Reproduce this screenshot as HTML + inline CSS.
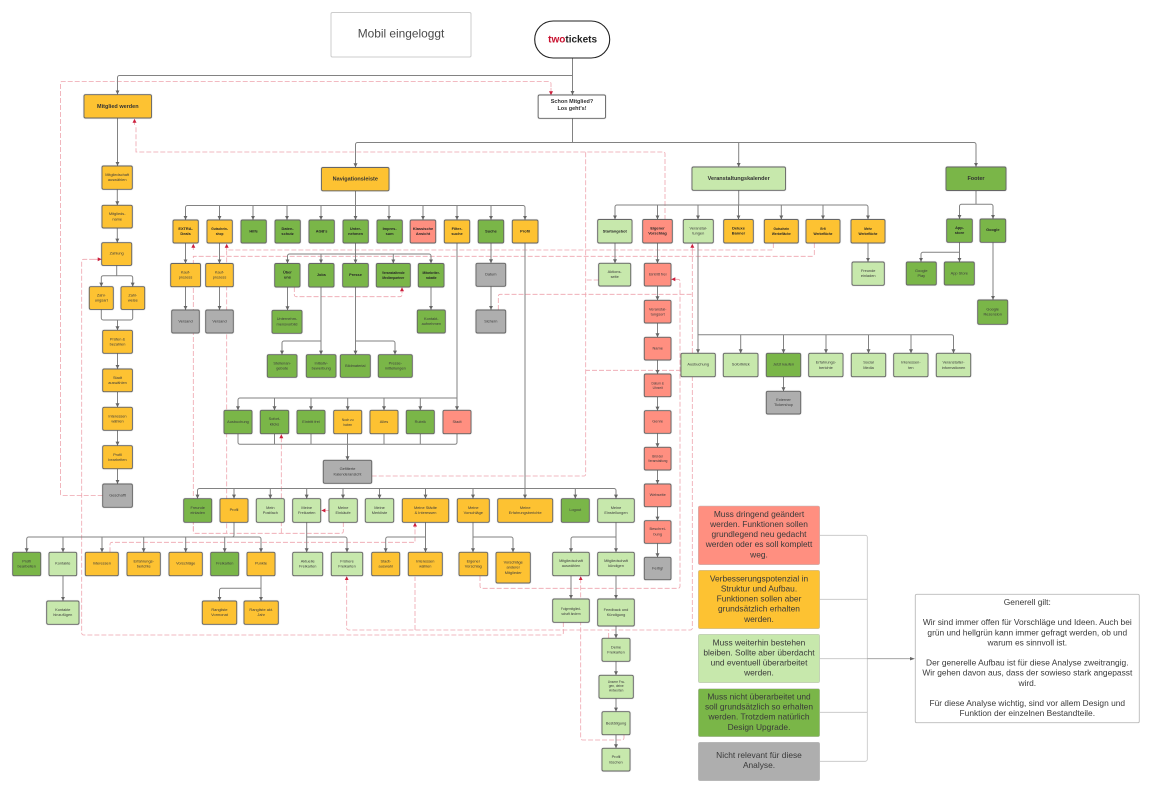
<!DOCTYPE html>
<html lang="de"><head><meta charset="utf-8"><title>Mobil eingeloggt</title>
<style>
html,body{margin:0;padding:0;background:#fff;width:1152px;height:794px;overflow:hidden}
svg{display:block}
text{font-family:"Liberation Sans",sans-serif;font-size:3.9px;text-anchor:middle;fill:#3c3c3c}
.b text,text.b{font-weight:bold;fill:#262626}
.h{font-weight:bold;font-size:5.5px;fill:#333}
.s{font-size:3.2px}
.l{font-size:8.4px;fill:#3a3a3a}
.o,.g,.c,.r,.k,.w{stroke:#666;stroke-width:.9;filter:drop-shadow(0 .4px .4px rgba(0,0,0,.3))}
.o{fill:#fdc232}.g{fill:#7ab648}.c{fill:#c7e8ac}.r{fill:#ff8f80}.k{fill:#aeaeae}.w{fill:#fff}
.ln path{fill:none;stroke:#828282;stroke-width:1}
.ar path{fill:none;stroke:#828282;stroke-width:1;marker-end:url(#a)}
.da path{fill:none;stroke:#eea4ad;stroke-width:.8;stroke-dasharray:5 2}
.dar path{fill:none;stroke:#eea4ad;stroke-width:.8;stroke-dasharray:5 2;marker-end:url(#ra)}
.lg{stroke:#bdbdbd;stroke-width:.5}
</style></head><body>
<svg xmlns="http://www.w3.org/2000/svg" width="1152" height="794" viewBox="0 0 1152 794">
<defs>
<marker id="a" markerUnits="userSpaceOnUse" markerWidth="5" markerHeight="5" refX="3.8" refY="2" orient="auto"><path d="M0 0L4 2L0 4Z" style="fill:#666;stroke:none"/></marker>
<marker id="ra" markerUnits="userSpaceOnUse" markerWidth="5" markerHeight="5" refX="3.8" refY="2" orient="auto"><path d="M0 0L4 2L0 4Z" style="fill:#cc1f3c;stroke:none;stroke-dasharray:none"/></marker>
</defs>

<g class="da">
<path d="M102.7 495.5H62a1.5 1.5 0 0 1-1.5-1.5V83a1.5 1.5 0 0 1 1.5-1.5H549a2 2 0 0 1 2 2V88"/>
<path d="M665 220V153.5a1.5 1.5 0 0 0-1.5-1.5H136V125"/>
<path d="M371.7 476H584a1.7 1.7 0 0 0 1.7-1.7V152"/>
<path d="M598.7 280H585.7"/>
<path d="M681 370.3H585.7"/>
<path d="M773.3 243V248a2 2 0 0 1-2 2H226.7V533.3"/>
<path d="M814.3 243V254.3a2 2 0 0 1-2 2H193.3V533.3"/>
<path d="M343.3 522V531.3a2 2 0 0 1-2 2H195.3a2 2 0 0 1-2-2V500"/>
<path d="M281.3 533.3V442"/>
<path d="M498.3 310V296.3a2 2 0 0 1 2-2H692.3"/>
<path d="M692.3 250V628a2 2 0 0 1-2 2H348.7a2 2 0 0 1-2-2V582"/>
<path d="M415 630V576.7"/>
<path d="M608.7 638V630"/>
<path d="M563.3 622V633a2 2 0 0 1-2 2H83.7a2 2 0 0 1-2-2V261.3a2 2 0 0 1 2-2H94"/>
<path d="M110 552.3V544.3a2 2 0 0 1 2-2H415V528"/>
<path d="M480 576V586.3a2 2 0 0 0 2 2H678a2 2 0 0 0 2-2V281.3a2 2 0 0 0-2-2H676"/>
<path d="M624 735V738a2 2 0 0 1-2 2H582.7a2 2 0 0 1-2-2V582"/>
<path d="M294.3 287V294.7a2 2 0 0 0 2 2H400a2 2 0 0 0 2-2V293"/>
</g>
<g class="dar">
<path d="M551 88V95"/><path d="M134.5 125V119"/>
<path d="M193.3 250V244"/><path d="M226.7 250V244"/><path d="M692.3 250V244"/>
<path d="M281.3 442V434.5"/>
<path d="M329 510.5H321.6"/>
<path d="M415 528V522.7"/>
<path d="M346.7 582V576.4"/>
<path d="M580.7 582V576.4"/>
<path d="M676 279.3H671.5"/>
<path d="M94 259.3H101.5"/>
<path d="M402 293V287.5"/>
</g>

<g class="ln">
<path d="M572.5 75.5H119.5a2 2 0 0 0-2 2V90"/>
<path d="M572.5 118V142.5"/>
<path d="M357.5 142.5H974a2 2 0 0 1 2 2V160"/>
<path d="M355.5 160V144.5a2 2 0 0 1 2-2"/>
<path d="M116.7 265V275.7M103.3 275.7H130.7a2 2 0 0 1 2 2V280M103.3 275.7a2 2 0 0 0-2 2V280"/>
<path d="M101.3 309.3V318a2 2 0 0 0 2 2H130.7a2 2 0 0 0 2-2V309.3"/>
<path d="M355.5 191V205.5"/>
<path d="M187.5 205.5H523a2 2 0 0 1 2 2V212M185.5 212V207.5a2 2 0 0 1 2-2"/>
<path d="M355.5 243V254"/>
<path d="M289.5 254H429a2 2 0 0 1 2 2V258M287.5 258V256a2 2 0 0 1 2-2"/>
<path d="M321 341H284a2 2 0 0 0-2 2V348"/>
<path d="M355.5 341H393a2 2 0 0 1 2 2V348"/>
<path d="M457 398H240a2 2 0 0 0-2 2V404"/>
<path d="M238 433.7V442.3a2 2 0 0 0 2 2H455a2 2 0 0 0 2-2V433.7"/>
<path d="M274.5 433.7V444.3M311 433.7V444.3M384 433.7V444.3M420.3 433.7V444.3"/>
<path d="M199.5 488.5H614a2 2 0 0 1 2 2V493M197.5 493V490.5a2 2 0 0 1 2-2"/>
<path d="M234 522.3V535a2 2 0 0 1-2 2"/>
<path d="M28.7 537H259a2 2 0 0 1 2 2V545M26.7 545V539a2 2 0 0 1 2-2"/>
<path d="M261 588.3H221.5a2 2 0 0 0-2 2V595"/>
<path d="M306.7 537H345a2 2 0 0 1 2 2V546"/>
<path d="M425.5 537H387.7a2 2 0 0 0-2 2V546"/>
<path d="M473 537H511a2 2 0 0 1 2 2V546"/>
<path d="M616 537H573a2 2 0 0 0-2 2V546"/>
<path d="M738.7 190V205"/>
<path d="M617 205H866a2 2 0 0 1 2 2V214M615 214V207a2 2 0 0 1 2-2"/>
<path d="M698 334.7H951.5a2 2 0 0 1 2 2V347"/>
<path d="M976 190.5V204.3M961.5 204.3H991a2 2 0 0 1 2 2V213M961.5 204.3a2 2 0 0 0-2 2V213"/>
<path d="M959.5 252.3H923a2 2 0 0 0-2 2V256"/>
</g>
<g class="ar">
<path d="M572.5 58V94.7"/><path d="M117.5 90V94.2"/><path d="M355.5 160V167"/><path d="M976 160V166.7"/><path d="M738.7 142.5V166.7"/>
<path d="M117.5 118V165.7"/><path d="M117.3 189.3V205"/><path d="M117.3 228V242.4"/>
<path d="M101.3 280V286.4"/><path d="M132.7 280V286.4"/><path d="M117.5 320V330"/>
<path d="M117.5 353.3V368.7"/><path d="M117.5 391.7V407"/><path d="M117.5 430.3V445.4"/><path d="M117.5 468.7V483.7"/>
<path d="M185.5 212V219.7"/><path d="M219.5 205.5V219.7"/><path d="M253 205.5V219.7"/><path d="M287 205.5V219.7"/><path d="M321 205.5V219.7"/><path d="M355.5 205.5V219.7"/><path d="M389 205.5V219.7"/><path d="M423 205.5V219.7"/><path d="M457 205.5V219.7"/><path d="M491 205.5V219.7"/><path d="M525 212V219.7"/>
<path d="M185.5 243V263.2"/><path d="M185.5 286.7V309.7"/><path d="M219.5 243V263.2"/><path d="M219.5 286.7V309.7"/>
<path d="M287.5 258V263.2"/><path d="M321 254V263.2"/><path d="M355.5 254V263.2"/><path d="M393.3 254V263.2"/><path d="M431 258V263.2"/>
<path d="M287.5 287V310"/><path d="M431 287V309.7"/>
<path d="M321 287V354.4"/><path d="M282 348V354.4"/><path d="M355.5 287V354.4"/><path d="M395 348V354.4"/>
<path d="M491 243V263"/><path d="M491 286.3V309.7"/>
<path d="M457 243V410"/><path d="M238 404V410"/><path d="M274.5 398V410"/><path d="M311 398V410"/><path d="M347.7 398V410"/><path d="M384 398V410"/><path d="M420.3 398V410"/>
<path d="M347.5 433.7V460"/>
<path d="M525 243V498.4"/>
<path d="M197.5 493V498.4"/><path d="M234 488.5V498.4"/><path d="M270.3 488.5V498.4"/><path d="M306.7 488.5V498.4"/><path d="M343 488.5V498.4"/><path d="M379.5 488.5V498.4"/><path d="M425.5 488.5V498.4"/><path d="M473 488.5V498.4"/><path d="M575.3 488.5V498.4"/><path d="M616 493V498.4"/>
<path d="M26.7 545V552"/><path d="M63 537V552"/><path d="M102 537V552"/><path d="M143.7 537V552"/><path d="M185.7 537V552"/><path d="M224.7 537V552"/><path d="M261 545V552"/>
<path d="M63 576V600.7"/><path d="M261 576V600.7"/><path d="M219.5 595V600.7"/>
<path d="M306.7 522.3V552"/><path d="M347 546V552"/>
<path d="M425.5 522.3V552"/><path d="M385.7 546V552"/>
<path d="M473 522.3V552"/><path d="M513 546V552"/>
<path d="M616 522.3V552"/><path d="M571 546V552"/>
<path d="M571 575.7V598.7"/><path d="M616 575.7V598.7"/><path d="M616 626V638"/><path d="M616 661.3V675"/><path d="M616 698.3V711.4"/><path d="M616 734.7V748"/>
<path d="M615 214V219.2"/><path d="M657.5 205V219.2"/><path d="M698 205V219.2"/><path d="M738.5 205V219.2"/><path d="M781.3 205V219.2"/><path d="M823 205V219.2"/><path d="M868 214V219.2"/>
<path d="M615 243V263"/><path d="M657.5 243V263"/><path d="M657.5 286V300"/><path d="M657.5 323V337"/><path d="M657.5 360V373.7"/><path d="M657.5 396.7V410.4"/><path d="M657.5 433.3V447"/><path d="M657.5 470V483.7"/><path d="M657.5 507V520.4"/><path d="M657.5 543V557"/>
<path d="M868 243V261.7"/>
<path d="M698 243V353"/><path d="M740.7 334.7V353"/><path d="M783.5 334.7V353"/><path d="M826 334.7V353"/><path d="M868.5 334.7V353"/><path d="M911 334.7V353"/><path d="M953.5 347V353"/>
<path d="M783.5 376.7V391"/>
<path d="M959.5 213V218.7"/><path d="M993 213V218.7"/>
<path d="M959.5 242.3V261.7"/><path d="M921 256V261.7"/><path d="M993 242.3V299.7"/>
</g>

<rect x="331" y="12.5" width="140" height="44.5" rx="1.5" fill="#fff" stroke="#ccc" stroke-width="1"/>
<text x="401" y="37.3" style="font-size:11.9px;fill:#4a4a4a">Mobil eingeloggt</text>
<rect x="534.7" y="21" width="75" height="37" rx="18.5" fill="#fff" stroke="#222" stroke-width="1.1"/>
<text x="572.6" y="42.5" style="font-size:10px;font-weight:bold;fill:#222"><tspan fill="#c8102e">two</tspan>tickets</text>

<rect class="o" x="84" y="94.7" width="67.5" height="23.3" rx="1.5"/><text class="h" x="117.8" y="108">Mitglied werden</text>
<rect class="w" x="538.2" y="95" width="67.3" height="23.3" rx="1.5"/><text class="h" x="572" y="103">Schon Mitglied?</text><text class="h" x="572" y="110">Los geht's!</text>
<rect class="o" x="321.5" y="167.5" width="67.5" height="23.3" rx="1.5"/><text class="h" x="355.3" y="180.6">Navigationsleiste</text>
<rect class="c" x="692" y="167" width="93.5" height="23.3" rx="1.5"/><text class="h" x="738.7" y="180">Veranstaltungskalender</text>
<rect class="g" x="946" y="167" width="60" height="23.5" rx="1.5"/><text class="h" x="976" y="180">Footer</text>

<rect class="o" x="102" y="166" width="30.3" height="23.3" rx="1.5"/><text x="117.2" y="175.8">Mitgliedschaft</text><text x="117.2" y="181">auswählen</text>
<rect class="o" x="102" y="205.3" width="30.3" height="22.7" rx="1.5"/><text x="117.2" y="215.2">Mitglieds-</text><text x="117.2" y="220.4">name</text>
<rect class="o" x="101.7" y="242.7" width="30" height="22.7" rx="1.5"/><text x="116.7" y="254.6">Zahlung</text>
<rect class="o" x="89.3" y="286.7" width="24" height="22.7" rx="1.5"/><text x="101.3" y="296.5">Zahl-</text><text x="101.3" y="301.7">ungsart</text>
<rect class="o" x="121" y="286.7" width="23.7" height="22.7" rx="1.5"/><text x="132.8" y="296.5">Zahl-</text><text x="132.8" y="301.7">weise</text>
<rect class="o" x="102.7" y="330.3" width="29.7" height="23" rx="1.5"/><text x="117.5" y="340.4">Prüfen &amp;</text><text x="117.5" y="345.6">bezahlen</text>
<rect class="o" x="102.7" y="369" width="29.7" height="22.7" rx="1.5"/><text x="117.5" y="378.9">Stadt</text><text x="117.5" y="384.1">auswählen</text>
<rect class="o" x="102.7" y="407.3" width="29.7" height="23" rx="1.5"/><text x="117.5" y="417.4">Interessen</text><text x="117.5" y="422.6">wählen</text>
<rect class="o" x="102.7" y="445.7" width="29.7" height="23" rx="1.5"/><text x="117.5" y="455.8">Profil</text><text x="117.5" y="461">bearbeiten</text>
<rect class="k" x="102.7" y="484" width="29.7" height="23.3" rx="1.5"/><text x="117.5" y="496.6">Geschafft</text>

<g class="b">
<rect class="o" x="173" y="220" width="25.3" height="23" rx="1.5"/><text x="185.6" y="230">EXTRA-</text><text x="185.6" y="235">Deals</text>
<rect class="o" x="207" y="220" width="25.3" height="23" rx="1.5"/><text x="219.6" y="230" class="s">Gutschein-</text><text x="219.6" y="235" class="s">shop</text>
<rect class="g" x="241" y="220" width="25.3" height="23" rx="1.5"/><text x="253.6" y="232.5">Hilfe</text>
<rect class="g" x="275" y="220" width="25.3" height="23" rx="1.5"/><text x="287.6" y="230">Daten-</text><text x="287.6" y="235">schutz</text>
<rect class="g" x="309" y="220" width="25.3" height="23" rx="1.5"/><text x="321.6" y="232.5">AGB's</text>
<rect class="g" x="343" y="220" width="25.3" height="23" rx="1.5"/><text x="355.6" y="230">Unter-</text><text x="355.6" y="235">nehmen</text>
<rect class="g" x="377" y="220" width="25.3" height="23" rx="1.5"/><text x="389.6" y="230">Impres-</text><text x="389.6" y="235">sum</text>
<rect class="r" x="410.2" y="220" width="25.5" height="23" rx="1.5"/><text x="423" y="230">Klassische</text><text x="423" y="235">Ansicht</text>
<rect class="o" x="444.3" y="220" width="25.4" height="23" rx="1.5"/><text x="457" y="230">Filter-</text><text x="457" y="235">suche</text>
<rect class="g" x="478.2" y="220" width="25.5" height="23" rx="1.5"/><text x="491" y="232.5">Suche</text>
<rect class="o" x="512.3" y="220" width="25.7" height="23" rx="1.5"/><text x="525.1" y="232.5">Profil</text>
<rect class="c" x="597.7" y="219.5" width="34.3" height="23.5" rx="1.5"/><text x="614.8" y="232.5">Startangebot</text>
<rect class="r" x="642.7" y="219.5" width="29.6" height="23.5" rx="1.5"/><text x="657.5" y="229.5">Eigener</text><text x="657.5" y="234.7">Vorschlag</text>
<rect class="o" x="723.7" y="219.5" width="29.6" height="23.5" rx="1.5"/><text x="738.5" y="229.5">Deluxe</text><text x="738.5" y="234.7">Banner</text>
<rect class="o" x="764.3" y="219.5" width="34" height="23.5" rx="1.5"/><text x="781.3" y="230" class="s">Gutschein</text><text x="781.3" y="235" class="s">Werbefläche</text>
<rect class="o" x="806" y="219.5" width="34" height="23.5" rx="1.5"/><text x="823" y="230" class="s">Erfi</text><text x="823" y="235" class="s">Werbefläche</text>
<rect class="o" x="851" y="219.5" width="34" height="23.5" rx="1.5"/><text x="868" y="230" class="s">Mehr</text><text x="868" y="235" class="s">Werbefläche</text>
<rect class="g" x="946.7" y="219" width="25.6" height="23.3" rx="1.5"/><text x="959.5" y="229">App-</text><text x="959.5" y="234.2">store</text>
<rect class="g" x="980" y="219" width="25.7" height="23.3" rx="1.5"/><text x="992.8" y="231.2">Google</text>
<rect class="g" x="274.7" y="263.5" width="25.3" height="23.5" rx="1.5"/><text x="287.4" y="273.4">Über</text><text x="287.4" y="278.6">uns</text>
<rect class="g" x="308.7" y="263.5" width="25.3" height="23.5" rx="1.5"/><text x="321.4" y="276.1">Jobs</text>
<rect class="g" x="342.7" y="263.5" width="25.6" height="23.5" rx="1.5"/><text x="355.5" y="276.1">Presse</text>
<rect class="g" x="376.3" y="263.5" width="34" height="23.5" rx="1.5"/><text x="393.3" y="274" class="s">Veranstaltende</text><text x="393.3" y="279" class="s">Medienpartner</text>
<rect class="g" x="418.3" y="263.5" width="25.7" height="23.5" rx="1.5"/><text x="431.2" y="274" class="s">Mitarbeiter-</text><text x="431.2" y="279" class="s">rabatte</text>
</g>

<rect class="o" x="170.7" y="263.5" width="29.8" height="23.2" rx="1.5"/><text x="185.5" y="273.4">Kauf-</text><text x="185.5" y="278.6">prozess</text>
<rect class="o" x="205.7" y="263.5" width="27.6" height="23.2" rx="1.5"/><text x="219.5" y="273.4">Kauf-</text><text x="219.5" y="278.6">prozess</text>
<rect class="k" x="171.7" y="310" width="27.6" height="23" rx="1.5"/><text x="185.5" y="322.6">Versand</text>
<rect class="k" x="205.7" y="310" width="27.6" height="23" rx="1.5"/><text x="219.5" y="322.6">Versand</text>

<rect class="g" x="272" y="310.3" width="30" height="23" rx="1.5"/><text x="287" y="320.2">Unternehm-</text><text x="287" y="325.4">mensvorbild</text>
<rect class="g" x="417.3" y="310" width="28" height="23" rx="1.5"/><text x="431.3" y="320">Kontakt-</text><text x="431.3" y="325.2">aufnehmen</text>
<rect class="g" x="267.3" y="354.7" width="29.7" height="22.6" rx="1.5"/><text x="282.2" y="364.4">Stellenan-</text><text x="282.2" y="369.6">gebote</text>
<rect class="g" x="306.3" y="354.7" width="29.7" height="22.6" rx="1.5"/><text x="321.2" y="364.4">Initiativ-</text><text x="321.2" y="369.6">bewerbung</text>
<rect class="g" x="340.3" y="354.7" width="30" height="22.6" rx="1.5"/><text x="355.3" y="367">Bildmaterial</text>
<rect class="g" x="378.3" y="354.7" width="34" height="22.6" rx="1.5"/><text x="395.3" y="364.4">Presse-</text><text x="395.3" y="369.6">mitteilungen</text>
<rect class="k" x="476" y="263.3" width="29.7" height="23" rx="1.5"/><text x="490.8" y="275.6">Datum</text>
<rect class="k" x="476" y="310" width="29.7" height="23" rx="1.5"/><text x="490.8" y="322.6">Sichern</text>

<rect class="g" x="224" y="410.3" width="28" height="23.4" rx="1.5"/><text x="238" y="422.8">Ausbuchung</text>
<rect class="g" x="260.3" y="410.3" width="28.4" height="23.4" rx="1.5"/><text x="274.5" y="420.2">Sofort-</text><text x="274.5" y="425.4">klicks</text>
<rect class="g" x="297" y="410.3" width="28" height="23.4" rx="1.5"/><text x="311" y="422.8">Eintritt frei</text>
<rect class="o" x="333.7" y="410.3" width="28" height="23.4" rx="1.5"/><text class="s" x="347.7" y="420.8">Noch zu</text><text class="s" x="347.7" y="425.8">haben</text>
<rect class="o" x="370" y="410.3" width="28" height="23.4" rx="1.5"/><text x="384" y="422.8">Alles</text>
<rect class="g" x="406.3" y="410.3" width="28" height="23.4" rx="1.5"/><text x="420.3" y="422.8">Rubrik</text>
<rect class="r" x="443" y="410.3" width="28" height="23.4" rx="1.5"/><text x="457" y="422.8">Stadt</text>
<rect class="k" x="323.3" y="460.3" width="48.4" height="23" rx="1.5"/><text x="347.5" y="470.2">Gefilterte</text><text x="347.5" y="475.4">Kalenderansicht</text>

<rect class="g" x="183.7" y="498.7" width="28" height="23.6" rx="1.5"/><text x="197.7" y="508.8">Freunde</text><text x="197.7" y="514">einladen</text>
<rect class="o" x="220" y="498.7" width="28" height="23.6" rx="1.5"/><text x="234" y="511">Profil</text>
<rect class="c" x="256.3" y="498.7" width="28" height="23.6" rx="1.5"/><text x="270.3" y="508.8">Mein</text><text x="270.3" y="514">Postfach</text>
<rect class="c" x="292.7" y="498.7" width="28" height="23.6" rx="1.5"/><text x="306.7" y="508.8">Meine</text><text x="306.7" y="514">Freikarten</text>
<rect class="c" x="329" y="498.7" width="28.3" height="23.6" rx="1.5"/><text x="343.1" y="508.8">Meine</text><text x="343.1" y="514">Einkäufe</text>
<rect class="c" x="365.3" y="498.7" width="28.4" height="23.6" rx="1.5"/><text x="379.5" y="508.8">Meine</text><text x="379.5" y="514">Merkliste</text>
<rect class="o" x="402.3" y="498.7" width="46.4" height="23.6" rx="1.5"/><text x="425.5" y="508.8">Meine Städte</text><text x="425.5" y="514">&amp; Interessen</text>
<rect class="o" x="457.3" y="498.7" width="32" height="23.6" rx="1.5"/><text x="473.3" y="508.8">Meine</text><text x="473.3" y="514">Vorschläge</text>
<rect class="o" x="497.7" y="498.7" width="55" height="23.6" rx="1.5"/><text x="525.2" y="508.8">Meine</text><text x="525.2" y="514">Erfahrungsberichte</text>
<rect class="g" x="561.3" y="498.7" width="28" height="23.6" rx="1.5"/><text x="575.3" y="511">Logout</text>
<rect class="c" x="597.7" y="498.7" width="36.6" height="23.6" rx="1.5"/><text x="616" y="508.8">Meine</text><text x="616" y="514">Einstellungen</text>

<rect class="g" x="12.7" y="552.3" width="28" height="23.4" rx="1.5"/><text x="26.7" y="562.4">Profil</text><text x="26.7" y="567.6">bearbeiten</text>
<rect class="c" x="49" y="552.3" width="27.7" height="23.4" rx="1.5"/><text x="62.8" y="564.6">Kontakte</text>
<rect class="o" x="85.3" y="552.3" width="33" height="23.4" rx="1.5"/><text x="101.8" y="564.6">Interessen</text>
<rect class="o" x="127" y="552.3" width="33.3" height="23.4" rx="1.5"/><text x="143.7" y="562.4">Erfahrungs-</text><text x="143.7" y="567.6">berichte</text>
<rect class="o" x="169" y="552.3" width="33.3" height="23.4" rx="1.5"/><text x="185.7" y="564.6">Vorschläge</text>
<rect class="g" x="210.7" y="552.3" width="28" height="23.4" rx="1.5"/><text x="224.7" y="564.6">Freikarten</text>
<rect class="o" x="247" y="552.3" width="28" height="23.4" rx="1.5"/><text x="261" y="564.6">Punkte</text>
<rect class="c" x="46.7" y="601" width="32.3" height="23.3" rx="1.5"/><text x="62.8" y="611">Kontakte</text><text x="62.8" y="616.2">hinzufügen</text>
<rect class="o" x="202.3" y="601" width="34.4" height="23.3" rx="1.5"/><text x="219.5" y="611">Rangliste</text><text x="219.5" y="616.2">Vormonat</text>
<rect class="o" x="244" y="601" width="34.3" height="23.3" rx="1.5"/><text x="261.2" y="611">Rangliste akt.</text><text x="261.2" y="616.2">Jahr</text>

<rect class="c" x="292.7" y="552.3" width="30" height="23.4" rx="1.5"/><text x="307.7" y="562.4">Aktuelle</text><text x="307.7" y="567.6">Freikarten</text>
<rect class="c" x="331.3" y="552.3" width="31.4" height="23.4" rx="1.5"/><text x="347" y="562.4">Frühere</text><text x="347" y="567.6">Freikarten</text>
<rect class="o" x="371.7" y="552.3" width="28" height="23.4" rx="1.5"/><text x="385.7" y="562.4">Stadt-</text><text x="385.7" y="567.6">auswahl</text>
<rect class="o" x="408.3" y="552.3" width="34" height="23.4" rx="1.5"/><text x="425.3" y="562.4">Interessen</text><text x="425.3" y="567.6">wählen</text>
<rect class="o" x="459" y="552.3" width="28.7" height="23.4" rx="1.5"/><text x="473.3" y="562.4">Eigener</text><text x="473.3" y="567.6">Vorschlag</text>
<rect class="o" x="496" y="552.3" width="34.3" height="30.7" rx="1.5"/><text x="513.2" y="563.4">Vorschläge</text><text x="513.2" y="568.6">anderer</text><text x="513.2" y="573.8">Mitglieder</text>
<rect class="c" x="552.7" y="552.3" width="36.6" height="23.4" rx="1.5"/><text x="571" y="562">Mitgliedschaft</text><text x="571" y="567.2">auswählen</text>
<rect class="c" x="597.7" y="552.3" width="36.6" height="23.4" rx="1.5"/><text x="616" y="562">Mitgliedschaft</text><text x="616" y="567.2">kündigen</text>
<rect class="c" x="552.7" y="599" width="36.6" height="23.3" rx="1.5"/><text class="s" x="571" y="609.8">Folgemitglied-</text><text class="s" x="571" y="614.8">schaft ändern</text>
<rect class="c" x="597.7" y="599" width="36.6" height="27" rx="1.5"/><text x="616" y="611">Feedback und</text><text x="616" y="616.2">Kündigung</text>
<rect class="c" x="602" y="638.3" width="28" height="23" rx="1.5"/><text x="616" y="648.3">Deine</text><text x="616" y="653.5">Freikarten</text>
<rect class="c" x="599" y="675.3" width="34.3" height="23" rx="1.5"/><text class="s" x="616.2" y="682.8">Unsere Fra-</text><text class="s" x="616.2" y="687.2">gen, deine</text><text class="s" x="616.2" y="691.6">Antworten</text>
<rect class="c" x="602" y="711.7" width="28" height="23" rx="1.5"/><text x="616" y="724.3">Bestätigung</text>
<rect class="c" x="602" y="748.3" width="28" height="22.7" rx="1.5"/><text x="616" y="758.2">Profil</text><text x="616" y="763.4">löschen</text>

<rect class="c" x="598.7" y="263.3" width="32" height="22.7" rx="1.5"/><text x="614.7" y="273">Aktions-</text><text x="614.7" y="278.2">seite</text>
<rect class="r" x="644.3" y="263.3" width="26.7" height="22.7" rx="1.5"/><text x="657.7" y="275.4">Eintritt frei</text>
<rect class="r" x="644.3" y="300.3" width="26.7" height="22.7" rx="1.5"/><text x="657.7" y="310.5">Veranstal-</text><text x="657.7" y="315.6">tungsort</text>
<rect class="r" x="644.3" y="337.3" width="26.7" height="22.7" rx="1.5"/><text x="657.7" y="349.4">Name</text>
<rect class="r" x="644.3" y="374" width="26.7" height="22.7" rx="1.5"/><text class="s" x="657.7" y="384.4">Datum &amp;</text><text class="s" x="657.7" y="389">Uhrzeit</text>
<rect class="r" x="644.3" y="410.7" width="26.7" height="22.6" rx="1.5"/><text x="657.7" y="422.5">Genre</text>
<rect class="r" x="644.3" y="447.3" width="26.7" height="22.7" rx="1.5"/><text class="s" x="657.7" y="457.6">Bild der</text><text class="s" x="657.7" y="462.2">Veranstaltung</text>
<rect class="r" x="644.3" y="484" width="26.7" height="22.7" rx="1.5"/><text x="657.7" y="495.8">Webseite</text>
<rect class="r" x="644.3" y="520.7" width="26.7" height="22.6" rx="1.5"/><text x="657.7" y="530.2">Beschrei-</text><text x="657.7" y="535.4">bung</text>
<rect class="k" x="644.3" y="557.3" width="26.7" height="22.4" rx="1.5"/><text x="657.7" y="569.5">Fertig!</text>

<rect class="c" x="683.3" y="219.5" width="30" height="23.5" rx="1.5"/><text x="698.3" y="229.5">Veranstal-</text><text x="698.3" y="234.7">tungen</text>
<rect class="c" x="852" y="262" width="32.3" height="23.3" rx="1.5"/><text x="868.2" y="272">Freunde</text><text x="868.2" y="277.2">einladen</text>
<rect class="c" x="681" y="353.3" width="34.3" height="23.4" rx="1.5"/><text x="698.2" y="365.4">Ausbuchung</text>
<rect class="c" x="723.3" y="353.3" width="34.7" height="23.4" rx="1.5"/><text x="740.7" y="365.4">Sofortklick</text>
<rect class="g" x="766.3" y="353.3" width="34.4" height="23.4" rx="1.5"/><text x="783.5" y="365.4">Jetzt kaufen</text>
<rect class="c" x="808.7" y="353.3" width="34.3" height="23.4" rx="1.5"/><text x="825.9" y="363.7">Erfahrungs-</text><text x="825.9" y="368.9">berichte</text>
<rect class="c" x="851.3" y="353.3" width="34.4" height="23.4" rx="1.5"/><text x="868.5" y="363.7">Social</text><text x="868.5" y="368.9">Media</text>
<rect class="c" x="893.7" y="353.3" width="34.3" height="23.4" rx="1.5"/><text x="910.9" y="363.7">Interessen-</text><text x="910.9" y="368.9">ten</text>
<rect class="c" x="936.3" y="353.3" width="34.4" height="23.4" rx="1.5"/><text x="953.5" y="363.7">Veranstalter-</text><text x="953.5" y="368.9">informationen</text>
<rect class="k" x="766.3" y="391.3" width="34.4" height="22.7" rx="1.5"/><text x="783.5" y="401">Externer</text><text x="783.5" y="406.2">Tickershop</text>
<rect class="g" x="906.3" y="262" width="30" height="23" rx="1.5"/><text x="921.3" y="272">Google</text><text x="921.3" y="277.2">Play</text>
<rect class="g" x="944.3" y="262" width="30" height="23" rx="1.5"/><text x="959.3" y="274.3">App Store</text>
<rect class="g" x="977.7" y="300" width="30" height="24.3" rx="1.5"/><text x="992.7" y="310.5">Google</text><text x="992.7" y="315.7">Rezension</text>

<g fill="none" stroke="#c4c4c4" stroke-width=".8">
<path d="M819.7 535.3H865.3a2 2 0 0 1 2 2V759.3a2 2 0 0 1-2 2H819.7"/>
<path d="M819.7 599.3H867.3M819.7 658.7H867.3M819.7 712.3H867.3"/>
</g>
<path d="M867.3 658.7H910" fill="none" stroke="#999" stroke-width=".8"/>
<path d="M910 657L915 658.7L910 660.4Z" fill="#666"/>

<rect class="lg" x="698.3" y="506" width="121.4" height="58.7" rx="1.5" fill="#ff8f80"/>
<rect class="lg" x="698.3" y="570.3" width="121.4" height="58.4" rx="1.5" fill="#fdc232"/>
<rect class="lg" x="698.3" y="634.3" width="121.4" height="48.4" rx="1.5" fill="#c7e8ac"/>
<rect class="lg" x="698.3" y="688.7" width="121.4" height="48" rx="1.5" fill="#7ab648"/>
<rect class="lg" x="698.3" y="742.3" width="121.4" height="38.4" rx="1.5" fill="#aeaeae"/>
<g class="ltxt">
<text class="l" x="759" y="517">Muss dringend geändert</text>
<text class="l" x="759" y="527">werden. Funktionen sollen</text>
<text class="l" x="759" y="537.1">grundlegend neu gedacht</text>
<text class="l" x="759" y="547.2">werden oder es soll komplett</text>
<text class="l" x="759" y="557.3">weg.</text>
<text class="l" x="759" y="581.5">Verbesserungspotenzial in</text>
<text class="l" x="759" y="591.5">Struktur und Aufbau.</text>
<text class="l" x="759" y="601.6">Funktionen sollen aber</text>
<text class="l" x="759" y="611.7">grundsätzlich erhalten</text>
<text class="l" x="759" y="621.8">werden.</text>
<text class="l" x="759" y="645.5">Muss weiterhin bestehen</text>
<text class="l" x="759" y="655.5">bleiben. Sollte aber überdacht</text>
<text class="l" x="759" y="665.6">und eventuell überarbeitet</text>
<text class="l" x="759" y="675.7">werden.</text>
<text class="l" x="759" y="699.5">Muss nicht überarbeitet und</text>
<text class="l" x="759" y="709.6">soll grundsätzlich so erhalten</text>
<text class="l" x="759" y="719.7">werden. Trotzdem natürlich</text>
<text class="l" x="759" y="729.8">Design Upgrade.</text>
<text class="l" x="759" y="757.8">Nicht relevant für diese</text>
<text class="l" x="759" y="767.9">Analyse.</text>
</g>
<rect x="915.3" y="594.3" width="224" height="128.4" rx="1.5" fill="#fff" stroke="#bbb" stroke-width=".9"/>
<text class="l" x="1027.3" y="605">Generell gilt:</text>
<text class="l" x="1027.3" y="625.2">Wir sind immer offen für Vorschläge und Ideen. Auch bei</text>
<text class="l" x="1027.3" y="635.3">grün und hellgrün kann immer gefragt werden, ob und</text>
<text class="l" x="1027.3" y="645.4">warum es sinnvoll ist.</text>
<text class="l" x="1027.3" y="665.6">Der generelle Aufbau ist für diese Analyse zweitrangig.</text>
<text class="l" x="1027.3" y="675.7">Wir gehen davon aus, dass der sowieso stark angepasst</text>
<text class="l" x="1027.3" y="685.8">wird.</text>
<text class="l" x="1027.3" y="706">Für diese Analyse wichtig, sind vor allem Design und</text>
<text class="l" x="1027.3" y="716.1">Funktion der einzelnen Bestandteile.</text>
</svg>
</body></html>
